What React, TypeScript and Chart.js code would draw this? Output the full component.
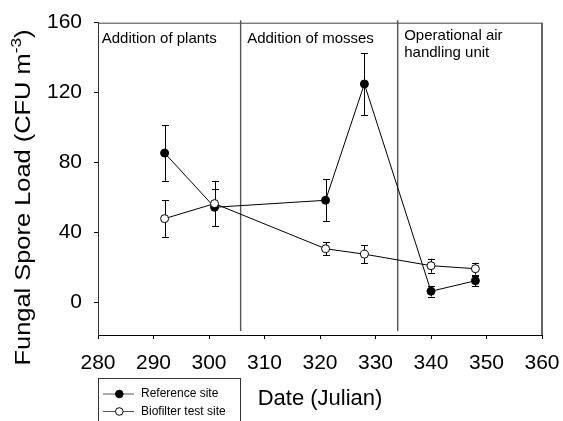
import React, { useEffect, useRef } from "react";
import { Chart, registerables } from "chart.js";

Chart.register(...registerables);

const days = [292, 301, 321, 328, 340, 348];
const referenceSite = [85.5, 54.5, 58.5, 125, 6.5, 12.5];
const referenceErr = [16, 10.5, 12, 17.7, 3, 3];
const biofilterSite = [48, 56.6, 30.8, 27.7, 21.1, 19.4];
const biofilterErr = [10.5, 13, 3.8, 5, 4, 3.4];
const xTicks = [280, 290, 300, 310, 320, 330, 340, 350, 360];
const yTicks = [0, 40, 80, 120, 160];
const phaseBoundaries = [305.7, 334];
const phaseStarts = [280, 305.7, 334];
const phaseLabels = [["Addition of plants"], ["Addition of mosses"], ["Operational air", "handling unit"]];
const seriesNames = ["Reference site", "Biofilter test site"];

const FONT = "'Liberation Sans', Arial, Helvetica, sans-serif";

const decorPlugin = {
  id: "decor",
  beforeDatasetsDraw(chart: any) {
    const { ctx, chartArea, scales } = chart;
    const xs = scales.x;
    const ys = scales.y;
    ctx.save();
    ctx.strokeStyle = "#444";
    ctx.lineWidth = 1;
    ctx.beginPath();
    ctx.moveTo(chartArea.left, chartArea.top + 0.5);
    ctx.lineTo(chartArea.right, chartArea.top + 0.5);
    ctx.stroke();
    ctx.strokeStyle = "#666";
    ctx.lineWidth = 2;
    ctx.beginPath();
    ctx.moveTo(chartArea.right, chartArea.top);
    ctx.lineTo(chartArea.right, chartArea.bottom);
    ctx.stroke();
    ctx.strokeStyle = "#555";
    ctx.lineWidth = 1.4;
    phaseBoundaries.forEach((d) => {
      const x = xs.getPixelForValue(d);
      ctx.beginPath();
      ctx.moveTo(x, chartArea.top - 2.5);
      ctx.lineTo(x, chartArea.bottom - 4);
      ctx.stroke();
    });
    ctx.strokeStyle = "#000";
    ctx.lineWidth = 1;
    chart.data.datasets.forEach((ds: any, i: number) => {
      const meta = chart.getDatasetMeta(i);
      ds.data.forEach((p: any, j: number) => {
        const e = ds.errors[j];
        const x = Math.round(meta.data[j].x) + 0.5;
        const y1 = ys.getPixelForValue(p.y + e);
        const y2 = ys.getPixelForValue(p.y - e);
        ctx.beginPath();
        ctx.moveTo(x, y1);
        ctx.lineTo(x, y2);
        ctx.moveTo(x - 3.5, Math.round(y1) + 0.5);
        ctx.lineTo(x + 3.5, Math.round(y1) + 0.5);
        ctx.moveTo(x - 3.5, Math.round(y2) + 0.5);
        ctx.lineTo(x + 3.5, Math.round(y2) + 0.5);
        ctx.stroke();
      });
    });
    ctx.restore();
  },
  afterDraw(chart: any) {
    const { ctx, chartArea, scales } = chart;
    const xs = scales.x;
    ctx.save();
    ctx.fillStyle = "#000";
    ctx.font = `15px ${FONT}`;
    ctx.textAlign = "left";
    ctx.textBaseline = "alphabetic";
    phaseLabels.forEach((lines, i) => {
      const x = xs.getPixelForValue(phaseStarts[i]) + (i === 0 ? 3.7 : 6.5);
      const baseY = i === 2 ? 39.8 : 42.8;
      lines.forEach((t, k) => ctx.fillText(t, x, baseY + k * 17));
    });
    ctx.font = `22px ${FONT}`;
    ctx.textAlign = "center";
    ctx.textBaseline = "middle";
    ctx.fillText("Date (Julian)", (chartArea.left + chartArea.right) / 2, 399);
    // y title with superscript
    ctx.save();
    ctx.translate(22, 197.5);
    ctx.rotate(-Math.PI / 2);
    const main = "Fungal Spore Load (CFU m";
    const sup = "-3";
    const close = ")";
    ctx.font = `22px ${FONT}`;
    const wMain = ctx.measureText(main).width;
    const wClose = ctx.measureText(close).width;
    ctx.font = `15px ${FONT}`;
    const wSup = ctx.measureText(sup).width;
    const total = wMain + wSup + wClose;
    const target = 336;
    ctx.scale(target / total, 1);
    let x0 = -total / 2;
    ctx.textAlign = "left";
    ctx.textBaseline = "alphabetic";
    ctx.font = `22px ${FONT}`;
    ctx.fillText(main, x0, 8);
    x0 += wMain;
    ctx.font = `15px ${FONT}`;
    ctx.fillText(sup, x0, -1);
    x0 += wSup;
    ctx.font = `22px ${FONT}`;
    ctx.fillText(close, x0, 8);
    ctx.restore();
    // legend
    ctx.strokeStyle = "#333";
    ctx.lineWidth = 1;
    ctx.strokeRect(98.5, 378.5, 142, 60);
    const rows = [394, 411.5];
    seriesNames.forEach((name, i) => {
      const y = rows[i];
      ctx.strokeStyle = "#555";
      ctx.beginPath();
      ctx.moveTo(103, y);
      ctx.lineTo(134, y);
      ctx.stroke();
      ctx.beginPath();
      ctx.arc(119.3, y, 3.8, 0, Math.PI * 2);
      ctx.fillStyle = i === 0 ? "#000" : "#fff";
      ctx.fill();
      ctx.strokeStyle = "#000";
      ctx.stroke();
      ctx.fillStyle = "#000";
      ctx.font = `12px ${FONT}`;
      ctx.textAlign = "left";
      ctx.textBaseline = "middle";
      ctx.fillText(name, 141, y);
    });
    ctx.restore();
  },
};

export default function App() {
  const ref = useRef<HTMLCanvasElement | null>(null);
  useEffect(() => {
    if (!ref.current) return;
    const chart = new Chart(ref.current, {
      type: "line",
      data: {
        datasets: [
          {
            label: seriesNames[0],
            data: days.map((d, i) => ({ x: d, y: referenceSite[i] })),
            errors: referenceErr,
            borderColor: "#000",
            borderWidth: 1,
            pointRadius: 4,
            pointBackgroundColor: "#000",
            pointBorderColor: "#000",
            pointBorderWidth: 1,
            tension: 0,
            order: 1,
          } as any,
          {
            label: seriesNames[1],
            data: days.map((d, i) => ({ x: d, y: biofilterSite[i] })),
            errors: biofilterErr,
            borderColor: "#000",
            borderWidth: 1,
            pointRadius: 4,
            pointBackgroundColor: "#fff",
            pointBorderColor: "#000",
            pointBorderWidth: 1,
            tension: 0,
            order: 0,
          } as any,
        ],
      },
      options: {
        responsive: false,
        animation: false,
        devicePixelRatio: 1,
        layout: { padding: { top: 22.7, right: 21, left: 0, bottom: 0 } },
        plugins: { legend: { display: false }, tooltip: { enabled: false } },
        scales: {
          x: {
            type: "linear",
            min: 280,
            max: 360,
            afterBuildTicks: (s: any) => {
              s.ticks = xTicks.map((v) => ({ value: v }));
            },
            afterFit: (s: any) => {
              s.height = 86;
              s.paddingLeft = 0;
              s.paddingRight = 0;
            },
            ticks: { font: { family: FONT, size: 21 }, color: "#000", padding: 12, maxRotation: 0, autoSkip: false },
            grid: { display: true, drawOnChartArea: false, drawTicks: true, tickLength: 4, color: "#000" },
            border: { display: true, color: "#000", width: 1 },
          },
          y: {
            type: "linear",
            min: -18.5,
            max: 160,
            afterBuildTicks: (s: any) => {
              s.ticks = yTicks.map((v) => ({ value: v }));
            },
            afterFit: (s: any) => {
              s.width = 98;
              s.paddingTop = 0;
              s.paddingBottom = 0;
            },
            ticks: { font: { family: FONT, size: 21 }, color: "#000", padding: 12, autoSkip: false },
            grid: { display: true, drawOnChartArea: false, drawTicks: true, tickLength: 4, color: "#000" },
            border: { display: true, color: "#333", width: 1 },
          },
        },
      },
      plugins: [decorPlugin],
    });
    return () => chart.destroy();
  }, []);
  return (
    <div style={{ position: "absolute", left: 0, top: 0, width: 563, height: 421, background: "#fff" }}>
      <canvas ref={ref} width={563} height={421} />
    </div>
  );
}
